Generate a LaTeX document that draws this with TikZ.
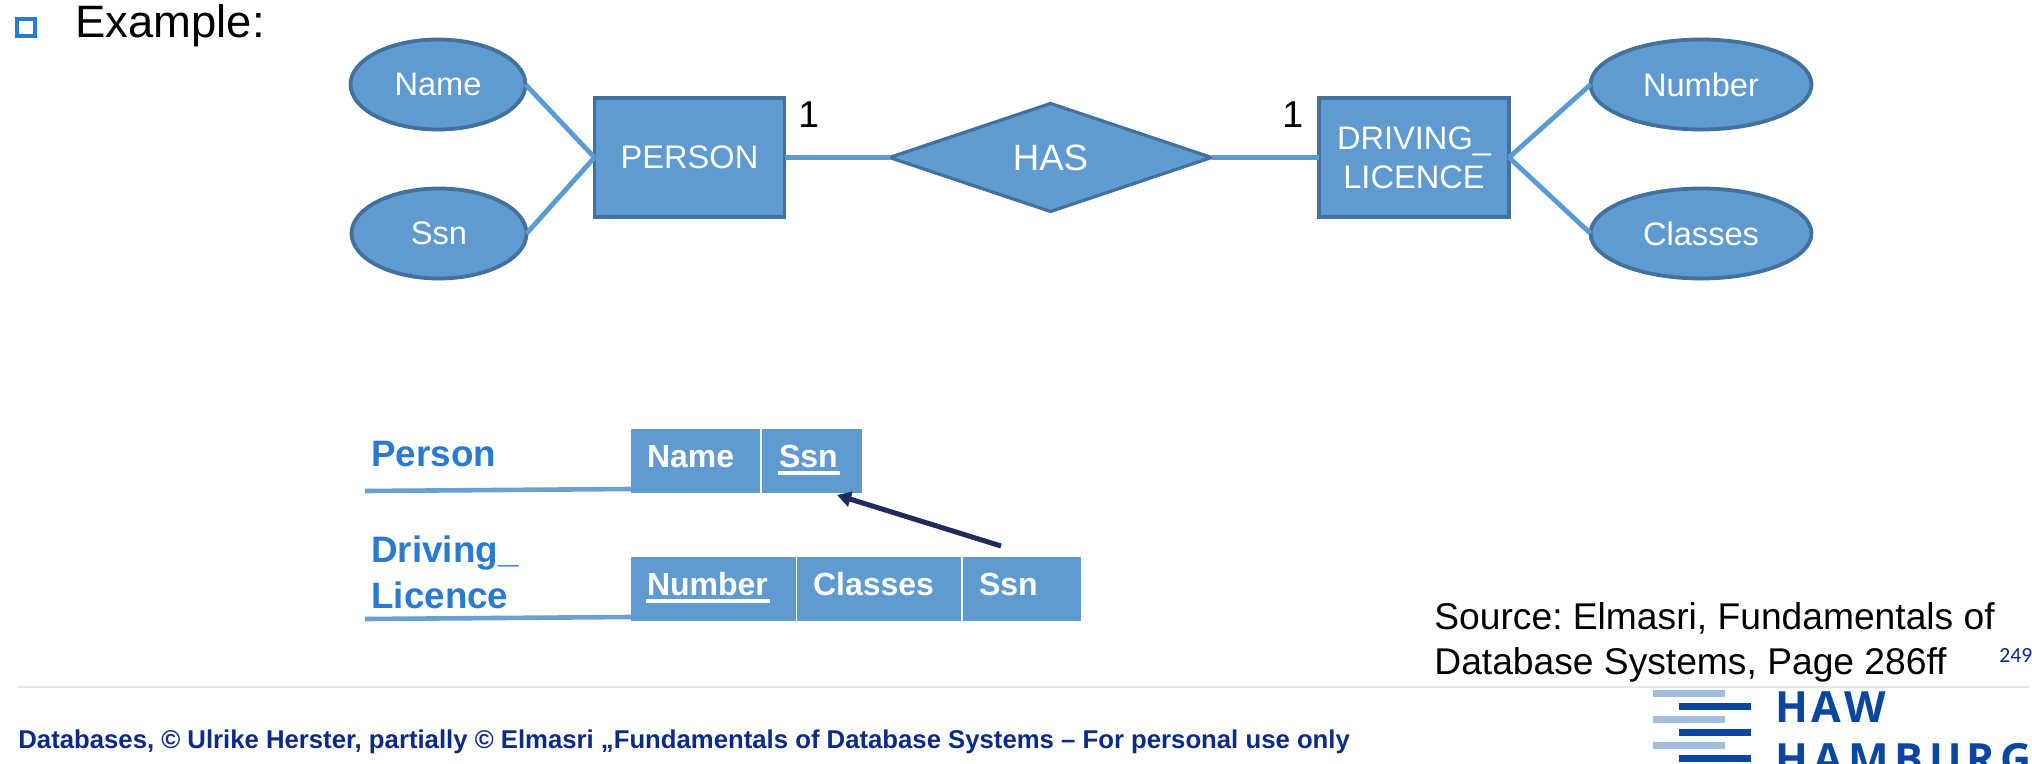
\documentclass[tikz,border=0pt]{standalone}
\usepackage{fontspec}
\setmainfont{Liberation Sans}
\newfontfamily\carlitofont{Carlito}
\newfontfamily\logofont{Open Sans}
\usetikzlibrary{shapes.geometric,arrows.meta}
\AtBeginDocument{\frenchspacing}
\definecolor{erfill}{HTML}{5F9BD1}
\definecolor{erline}{HTML}{41719C}
\definecolor{linkblue}{HTML}{5B9BD5}
\definecolor{rowline}{HTML}{6A9FD0}
\definecolor{titleblue}{HTML}{2A7BD0}
\definecolor{footblue}{HTML}{0B2A8A}
\definecolor{logodark}{HTML}{0B46A0}
\definecolor{logolight}{HTML}{A3BEDC}
\definecolor{fkarrow}{HTML}{1F2A5E}
\newcommand{\lowtxt}[1]{\raisebox{-0.6pt}{#1}}
\tikzset{
  x=0.5pt,y=-0.5pt,
  attr/.style={ellipse,draw=erline,fill=erfill,line width=1.9pt,inner sep=0pt,outer sep=0pt,
    minimum width=87.5pt,minimum height=45pt,text=white,font=\fontsize{16.3}{19.5}\selectfont},
  entity/.style={rectangle,draw=erline,fill=erfill,line width=1.6pt,inner sep=0pt,outer sep=0pt,
    minimum width=95pt,minimum height=59.5pt,text=white,align=center,font=\fontsize{16.3}{19.5}\selectfont},
  rel/.style={diamond,draw=erline,fill=erfill,line width=1.6pt,inner sep=0pt,outer sep=0pt,aspect=3,
    minimum width=161pt,minimum height=54pt,text=white,font=\fontsize{18.3}{22}\selectfont},
  link/.style={draw=linkblue,line width=2.4pt},
  cell/.style={rectangle,fill=erfill,inner sep=0pt,outer sep=0pt,anchor=north west,minimum height=32pt},
  celltext/.style={anchor=base west,inner sep=0pt,outer sep=0pt,text=white,font=\bfseries\fontsize{16}{19}\selectfont},
  tablename/.style={anchor=base west,inner sep=0pt,text=titleblue,font=\bfseries\fontsize{18.4}{22}\selectfont},
  plain/.style={anchor=base west,inner sep=0pt,text=black},
  logobar/.style={rectangle,inner sep=0pt,outer sep=0pt,anchor=north west,minimum height=3.5pt},
  logotext/.style={anchor=base west,inner sep=0pt,text=logodark,font=\logofont\bfseries\fontsize{21.5}{24}\selectfont},
}
\begin{document}
\begin{tikzpicture}
\path[use as bounding box] (0,0) rectangle (2032,764);
\clip (0,0) rectangle (2032,764);
\fill[white] (0,0) rectangle (2032,764);

% heading
\node[rectangle,draw=titleblue,line width=1.6pt,minimum width=9pt,minimum height=8.5pt,inner sep=0pt] (bullet) at (26,27.5) {};
\node[plain,font=\fontsize{22.7}{26}\selectfont] (example) at (75,38) {Example:};

% ER diagram
\node[attr] (name) at (438,84.5) {\lowtxt{Name}};
\node[attr] (ssn) at (439,233.5) {\lowtxt{Ssn}};
\node[entity] (person) at (689.5,157.5) {\lowtxt{PERSON}};
\node[rel] (has) at (1050.5,157.5) {\lowtxt{HAS}};
\node[entity] (licence) at (1414,157.5) {DRIVING\_\\LICENCE};
\node[attr,minimum width=110.5pt] (number) at (1701,84.5) {\lowtxt{Number}};
\node[attr,minimum width=110.5pt] (classes) at (1701,233.5) {\lowtxt{Classes}};
\draw[link] (name.east) -- (person.west);
\draw[link] (ssn.east) -- (person.west);
\draw[link] (person.east) -- (has.west);
\draw[link] (has.east) -- (licence.west);
\draw[link] (licence.east) -- (number.west);
\draw[link] (licence.east) -- (classes.west);
\node[plain,font=\fontsize{18.7}{22}\selectfont] (oneleft) at (798,128) {1};
\node[plain,font=\fontsize{18.7}{22}\selectfont] (oneright) at (1282,128) {1};

% relational schema
\node[tablename] (tperson) at (371,466) {Person};
\node[tablename] (tdriving) at (371,562) {Driving\_};
\node[tablename] (tlicence) at (371,608) {Licence};
\node[cell,minimum width=64.5pt] (c1) at (630.5,429) {};
\node[cell,minimum width=50pt] (c2) at (762,429) {};
\node[cell,minimum width=82.5pt] (c3) at (630.5,557) {};
\node[cell,minimum width=82pt] (c4) at (797,557) {};
\node[cell,minimum width=59pt] (c5) at (963,557) {};
\node[celltext] (c1t) at (647,467) {Name};
\node[celltext] (c2t) at (779,467) {Ssn};
\node[celltext] (c3t) at (647,595) {Number};
\node[celltext] (c4t) at (813,595) {Classes};
\node[celltext] (c5t) at (979,595) {Ssn};
\draw[white,line width=2pt] (c2t.base west)++(-1,6) -- ++(62,0);
\draw[white,line width=2pt] (c3t.base west)++(-1,6) -- ++(124,0);
\coordinate (pa) at (365,491);
\coordinate (pae) at (631,489);
\coordinate (pb) at (365,619);
\coordinate (pbe) at (631,617);
\draw[draw=rowline,line width=2.3pt] (pa) -- (pae);
\draw[draw=rowline,line width=2.3pt] (pb) -- (pbe);
\coordinate (fkfrom) at (1001,546);
\coordinate (fkto) at (837,495);
\draw[draw=fkarrow,line width=2.5pt,-{Triangle[length=7pt,width=7.5pt]}] (fkfrom) -- (fkto);

% source
\node[plain,font=\fontsize{18.6}{22}\selectfont] (source1) at (1434,629) {Source: Elmasri, Fundamentals of};
\node[plain,font=\fontsize{18.6}{22}\selectfont] (source2) at (1434,674) {Database Systems, Page 286ff};
\node[anchor=base west,inner sep=0pt,text=footblue,font=\carlitofont\fontsize{10.8}{13}\selectfont] (page) at (1999,662) {249};

% footer
\coordinate (rulea) at (18,687);
\coordinate (ruleb) at (2029,687);
\draw[draw=black!9,line width=1pt] (rulea) -- (ruleb);
\node[anchor=base west,inner sep=0pt,text=footblue,font=\bfseries\fontsize{12.86}{15}\selectfont] (foot) at (18,748) {Databases, © Ulrike Herster, partially © Elmasri „Fundamentals of Database Systems – For personal use only};

% logo
\node[logobar,fill=logolight,minimum width=35.75pt] (l1) at (1653,690) {};
\node[logobar,fill=logodark,minimum width=36pt] (d1) at (1679,703) {};
\node[logobar,fill=logolight,minimum width=35.75pt] (l2) at (1653,716) {};
\node[logobar,fill=logodark,minimum width=36pt] (d2) at (1679,729) {};
\node[logobar,fill=logolight,minimum width=35.75pt] (l3) at (1653,742) {};
\node[logobar,fill=logodark,minimum width=36pt] (d3) at (1679,755) {};
\node[logotext] (haw) at (1775,722) {H\kern1.7pt A\kern1.7pt W};
\node[logotext] (hamburg) at (1775,774) {H\kern2.7pt A\kern2.7pt M\kern2.7pt B\kern2.7pt U\kern2.7pt R\kern2.7pt G};
\end{tikzpicture}
\end{document}
